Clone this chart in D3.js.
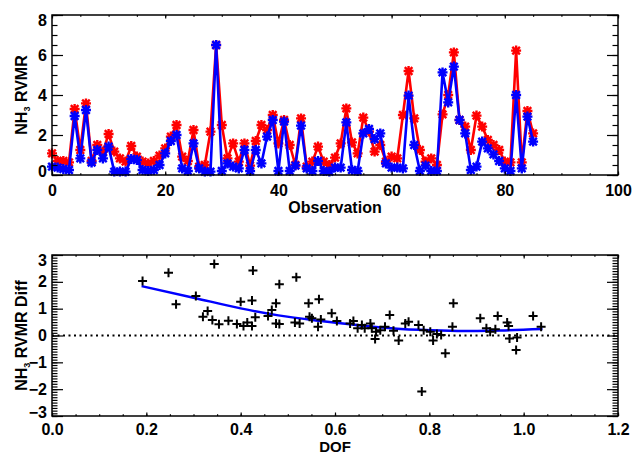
<!DOCTYPE html>
<html>
<head>
<meta charset="utf-8">
<script src="https://cdn.jsdelivr.net/npm/d3@7"></script>
<style>
  body { margin: 0; background: #fff; }
  svg text { font-family: "Liberation Sans", Arial, sans-serif; font-weight: bold; }
</style>
</head>
<body>
<div id="chart"></div>
<script>
// top panel: retrieved NH3 per observation (index = observation number)
const rvmrRed = [1.08,0.70,0.70,0.63,3.30,1.25,3.58,0.70,1.50,1.17,
  2.05,1.17,0.83,0.67,1.45,0.92,0.67,0.58,0.70,0.97,
  1.33,1.92,2.50,0.92,0.70,2.25,0.42,0.50,2.17,6.50,
  2.50,0.83,1.58,0.67,1.58,0.47,1.70,2.50,2.25,3.00,
  1.58,2.75,1.50,0.50,2.83,0.42,0.67,1.42,0.67,0.50,
  0.87,1.58,3.33,1.63,1.08,2.87,2.17,1.17,1.50,0.67,
  0.92,0.83,3.00,5.20,2.83,1.25,0.67,0.83,0.50,3.03,
  4.00,6.13,2.75,2.42,1.25,2.97,2.42,1.75,1.50,1.25,
  0.67,0.63,6.22,0.63,3.20,2.08]
const rvmrBlue = [0.42,0.37,0.30,0.25,2.95,0.83,3.25,0.62,1.25,0.83,
  1.42,0.17,0.17,0.17,0.80,0.75,0.25,0.20,0.25,0.50,
  1.08,1.70,2.00,0.33,0.20,1.58,0.33,0.17,0.17,6.50,
  0.20,0.58,0.42,0.33,1.25,0.20,1.25,0.58,1.92,2.75,
  0.20,2.67,0.20,0.47,2.47,0.33,0.20,0.70,0.20,0.17,
  0.37,0.37,2.63,0.25,0.20,2.08,2.30,1.80,2.08,0.58,
  0.37,0.37,0.33,3.97,1.50,0.20,0.47,0.20,0.20,5.13,
  3.63,5.42,2.75,2.08,0.25,0.42,1.67,1.33,1.03,0.70,
  0.33,0.20,4.00,0.33,2.92,1.67]

// bottom panel: difference vs DOF
const dofVals = [0.192,0.247,0.263,0.305,0.320,0.330,0.340,0.344,0.354,0.374,
  0.392,0.400,0.406,0.414,0.424,0.424,0.426,0.431,0.458,0.466,
  0.475,0.475,0.482,0.482,0.515,0.518,0.525,0.544,0.546,0.551,
  0.564,0.566,0.570,0.593,0.604,0.632,0.639,0.648,0.657,0.663,
  0.675,0.678,0.685,0.687,0.696,0.706,0.716,0.724,0.735,0.749,
  0.756,0.777,0.784,0.788,0.802,0.808,0.816,0.825,0.834,0.849,
  0.851,0.908,0.921,0.929,0.940,0.945,0.965,0.968,0.970,0.984,
  0.986,1.020,1.037]
const diffVals = [2.03,2.34,1.16,1.47,0.70,0.91,0.58,2.66,0.42,0.55,
  0.43,1.26,0.35,0.48,1.30,0.35,2.42,0.68,0.73,0.95,
  1.20,0.45,0.43,1.91,0.48,2.17,0.45,1.20,0.70,0.64,
  0.33,1.35,0.60,0.83,0.54,0.45,0.54,0.27,0.39,0.27,
  0.45,0.27,-0.13,0.14,0.20,0.33,0.76,0.18,-0.19,0.45,
  0.51,0.39,-2.09,0.20,0.14,-0.19,0.06,0.02,-0.66,0.33,
  1.20,0.64,0.27,0.14,0.23,0.73,0.48,0.35,-0.11,-0.54,
  -0.07,0.73,0.33]

// fitted curve
const fitDof = [0.19,0.30,0.40,0.48,0.57,0.68,0.78,0.86,0.95,1.04]
const fitDiff = [1.84,1.41,1.01,0.75,0.54,0.33,0.21,0.17,0.19,0.24]

const topXTicks = [0,20,40,60,80,100]
const topYTicks = [0,2,4,6,8]
const botXTicks = [0.0,0.2,0.4,0.6,0.8,1.0,1.2]
const botYTicks = [-3,-2,-1,0,1,2,3]

const W = 633, H = 456
const svg = d3.select("#chart").append("svg")
  .attr("width", W).attr("height", H)

const plotW = 566
const fontSize = 16

function minorValues(domain, step) {
  const out = []
  const n = Math.round((domain[1] - domain[0]) / step)
  for (let k = 0; k <= n; k++) out.push(+(domain[0] + k * step).toFixed(4))
  return out
}

function drawFrame(g, xScale, yScale, opt) {
  const h = opt.height
  // minor ticks
  const minX = minorValues(xScale.domain(), opt.xMinor)
  const minY = minorValues(yScale.domain(), opt.yMinor)
  const styleAxis = sel => {
    sel.select(".domain").remove()
    sel.selectAll("line").attr("stroke", "#000").attr("stroke-width", 1.2)
  }
  g.append("g").attr("transform", `translate(0,${h})`)
    .call(d3.axisBottom(xScale).tickValues(minX).tickSize(-opt.xTick / 2).tickFormat(""))
    .call(styleAxis)
  g.append("g")
    .call(d3.axisTop(xScale).tickValues(minX).tickSize(-opt.xTick / 2).tickFormat(""))
    .call(styleAxis)
  g.append("g")
    .call(d3.axisLeft(yScale).tickValues(minY).tickSize(-opt.yTick / 2).tickFormat(""))
    .call(styleAxis)
  g.append("g").attr("transform", `translate(${plotW},0)`)
    .call(d3.axisRight(yScale).tickValues(minY).tickSize(-opt.yTick / 2).tickFormat(""))
    .call(styleAxis)

  // major ticks + labels
  const bottom = g.append("g").attr("transform", `translate(0,${h})`)
    .call(d3.axisBottom(xScale).tickValues(opt.xTicks).tickSize(-opt.xTick)
      .tickPadding(opt.xPad).tickFormat(opt.xFmt))
    .call(styleAxis)
  bottom.attr("font-family", null).attr("font-size", fontSize)
  bottom.selectAll("text").attr("fill", "#000")
  g.append("g")
    .call(d3.axisTop(xScale).tickValues(opt.xTicks).tickSize(-opt.xTick).tickFormat(""))
    .call(styleAxis)
  const left = g.append("g")
    .call(d3.axisLeft(yScale).tickValues(opt.yTicks).tickSize(-opt.yTick)
      .tickPadding(5).tickFormat(opt.yFmt))
    .call(styleAxis)
  left.attr("font-family", null).attr("font-size", fontSize)
  left.selectAll("text").attr("fill", "#000")
  // end labels sit a bit inside the frame
  const lt = left.selectAll("text").nodes()
  d3.select(lt[0]).attr("y", -4)
  d3.select(lt[lt.length - 1]).attr("y", 5)
  g.append("g").attr("transform", `translate(${plotW},0)`)
    .call(d3.axisRight(yScale).tickValues(opt.yTicks).tickSize(-opt.yTick).tickFormat(""))
    .call(styleAxis)

  g.append("rect").attr("width", plotW).attr("height", h)
    .attr("fill", "none").attr("stroke", "#000").attr("stroke-width", 1.5)
}

function yTitle(x, y, extra) {
  const t = svg.append("text")
    .attr("transform", `translate(${x},${y}) rotate(-90)`)
    .attr("text-anchor", "middle")
    .attr("font-size", fontSize)
  t.append("tspan").text("NH")
  t.append("tspan").text("3").attr("font-size", 9).attr("dy", 3)
  t.append("tspan").text(" RVMR" + extra).attr("dy", -3)
}

// ---------- top panel ----------
const topBox = { left: 52, top: 15, height: 160 }
const gTop = svg.append("g").attr("transform", `translate(${topBox.left},${topBox.top})`)
const xTop = d3.scaleLinear().domain([0, 100]).range([0, plotW])
const yTop = d3.scaleLinear().domain([0, 8]).range([topBox.height, 0])

const starPath = "M-5,0H5M0,-5V5M-3.8,-3.8L3.8,3.8M-3.8,3.8L3.8,-3.8"

function drawSeries(values, color) {
  const line = d3.line().x((d, i) => xTop(i)).y(d => yTop(d))
  gTop.append("path").datum(values)
    .attr("d", line)
    .attr("fill", "none").attr("stroke", color).attr("stroke-width", 2.6)
  gTop.append("g").selectAll("path").data(values).join("path")
    .attr("transform", (d, i) => `translate(${xTop(i)},${yTop(d)})`)
    .attr("d", starPath)
    .attr("stroke", color).attr("stroke-width", 2.4).attr("fill", "none")
}
drawSeries(rvmrRed, "#ff0000")
drawSeries(rvmrBlue, "#0000ff")

drawFrame(gTop, xTop, yTop, {
  height: topBox.height, xTicks: topXTicks, yTicks: topYTicks,
  xMinor: 5, yMinor: 0.5, xTick: 3.5, yTick: 11, xPad: 10,
  xFmt: d3.format("d"), yFmt: d3.format("d")
})

svg.append("text").attr("x", topBox.left + plotW / 2).attr("y", 213)
  .attr("text-anchor", "middle").attr("font-size", fontSize).text("Observation")
yTitle(27, topBox.top + topBox.height / 2, "")

// ---------- bottom panel ----------
const botBox = { left: 52, top: 255, height: 161 }
const gBot = svg.append("g").attr("transform", `translate(${botBox.left},${botBox.top})`)
const xBot = d3.scaleLinear().domain([0, 1.2]).range([0, plotW])
const yBot = d3.scaleLinear().domain([-3, 3]).range([botBox.height, 0])

gBot.append("line")
  .attr("x1", xBot(0)).attr("x2", xBot(1.2))
  .attr("y1", yBot(0)).attr("y2", yBot(0))
  .attr("stroke", "#000").attr("stroke-width", 2)
  .attr("stroke-dasharray", "2,3.5")

const fitLine = d3.line().x(d => xBot(d[0])).y(d => yBot(d[1])).curve(d3.curveMonotoneX)
gBot.append("path").datum(d3.zip(fitDof, fitDiff))
  .attr("d", fitLine)
  .attr("fill", "none").attr("stroke", "#0000ff").attr("stroke-width", 2.5)

gBot.append("g").selectAll("path").data(d3.zip(dofVals, diffVals)).join("path")
  .attr("transform", d => `translate(${xBot(d[0])},${yBot(d[1])})`)
  .attr("d", "M-4.5,0H4.5M0,-4.5V4.5")
  .attr("stroke", "#000").attr("stroke-width", 2)

drawFrame(gBot, xBot, yBot, {
  height: botBox.height, xTicks: botXTicks, yTicks: botYTicks,
  xMinor: 0.05, yMinor: 0.1, xTick: 3.5, yTick: 11, xPad: 8,
  xFmt: d3.format(".1f"), yFmt: d3.format("d")
})

svg.append("text").attr("x", botBox.left + plotW / 2).attr("y", 452)
  .attr("text-anchor", "middle").attr("font-size", 15).text("DOF")
yTitle(27, botBox.top + botBox.height / 2, " Diff")
</script>
</body>
</html>
